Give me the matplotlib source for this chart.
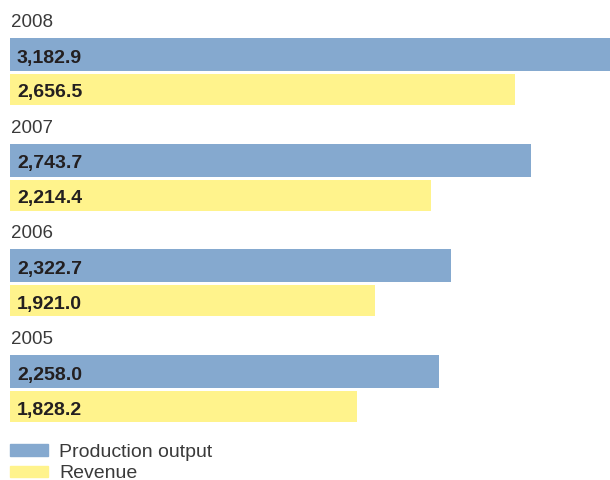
import matplotlib.pyplot as plt
from matplotlib.patches import Patch

years = ['2008', '2007', '2006', '2005']
production = [3182.9, 2743.7, 2322.7, 2258.0]
revenue = [2656.5, 2214.4, 1921.0, 1828.2]

blue = '#85a9cf'
yellow = '#fff38c'

plt.rcParams['font.family'] = ['Liberation Sans', 'DejaVu Sans']

fig = plt.figure(figsize=(6.1, 4.8), dpi=100)
# axes in pixel units vertically, value units horizontally
ax = fig.add_axes([10 / 610, 0, 600 / 610, 1])
ax.set_xlim(0, 600 / 0.19)
ax.set_ylim(480, 0)
ax.axis('off')

step = 105.7
for i, year in enumerate(years):
    top = 38 + i * step
    yb = top + 16.5
    yy = top + 36 + 15.5
    ax.barh(yb, production[i], height=33, color=blue, align='center')
    ax.barh(yy, revenue[i], height=31, color=yellow, align='center')
    ax.text(0.5 / 0.19, top - 11, year, fontsize=13.5, color='#3a3a3a',
            va='baseline', ha='left')
    for y, v in [(yb, production[i]), (yy, revenue[i])]:
        ax.annotate('{:,.1f}'.format(v), xy=(0, y + 8), xytext=(5, 0),
                    textcoords='offset points', fontsize=14, fontweight='bold',
                    color='#231f20', va='baseline', ha='left')

handles = [Patch(color=blue), Patch(color=yellow)]
fig.legend(handles, ['Production output', 'Revenue'], loc='upper left',
           bbox_to_anchor=(10 / 610, 1 - 444 / 480), frameon=False,
           fontsize=14, handlelength=1.96, handleheight=0.55,
           handletextpad=0.57, labelspacing=0.22, borderpad=0,
           borderaxespad=0, labelcolor='#3a3a3a')

fig.savefig('out.png', dpi=100)
